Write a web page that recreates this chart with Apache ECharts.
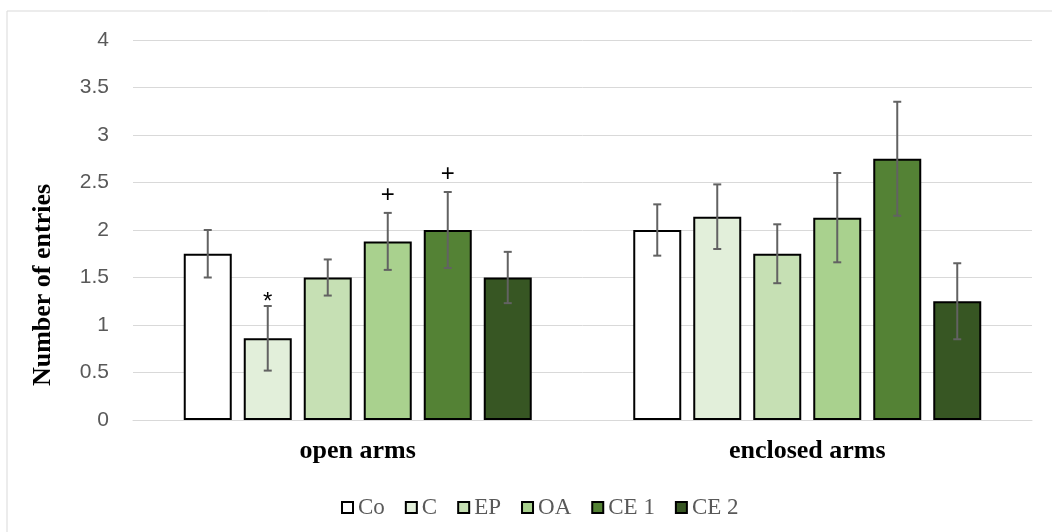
<!DOCTYPE html>
<html>
<head>
<meta charset="utf-8">
<script src="https://cdn.jsdelivr.net/npm/echarts@6/dist/echarts.min.js"></script>
<style>html,body{margin:0;padding:0;background:#fff;}#c{width:1052px;height:532px;}</style>
</head>
<body>
<div id="c"></div>
<script>
const categories = ['open arms', 'enclosed arms'];
const seriesNames = ['Co', 'C', 'EP', 'OA', 'CE 1', 'CE 2'];
const colors = ['#FFFFFF', '#E2EFDA', '#C6E0B4', '#A9D18E', '#548235', '#375623'];
const means = [
  [1.75, 2.0],
  [0.86, 2.14],
  [1.5, 1.75],
  [1.88, 2.13],
  [2.0, 2.75],
  [1.5, 1.25]
];
const errors = [
  [0.25, 0.27],
  [0.34, 0.34],
  [0.19, 0.31],
  [0.30, 0.47],
  [0.40, 0.60],
  [0.27, 0.40]
];
const annotations = [
  ['', ''],
  ['*', ''],
  ['', ''],
  ['+', ''],
  ['+', ''],
  ['', '']
];
const yTicks = { min: 0, max: 4, interval: 0.5 };
const yTitle = 'Number of entries';

const chart = echarts.init(document.getElementById('c'), null, { renderer: 'canvas' });
const BAR_W = 48, STEP = 60;

const series = [];
seriesNames.forEach((name, i) => {
  series.push({
    name: name,
    type: 'bar',
    data: means[i],
    barWidth: BAR_W,
    barGap: '25%',
    itemStyle: { color: colors[i], borderColor: '#000', borderWidth: 2 },
    z: 2
  });
});
seriesNames.forEach((name, i) => {
  series.push({
    type: 'custom',
    name: name + '_err',
    data: means[i].map((m, j) => [j, m, errors[i][j]]),
    z: 5,
    silent: true,
    renderItem: function (params, api) {
      const j = api.value(0), m = api.value(1), e = api.value(2);
      const ann = annotations[i][j];
      const off = (i - 2.5) * STEP;
      const top = api.coord([j, m + e]);
      const bot = api.coord([j, m - e]);
      const x = top[0] + off;
      const cap = 4;
      const st = { stroke: '#626262', lineWidth: 2 };
      const children = [
        { type: 'line', shape: { x1: x, y1: top[1], x2: x, y2: bot[1] }, style: st },
        { type: 'line', shape: { x1: x - cap, y1: top[1], x2: x + cap, y2: top[1] }, style: st },
        { type: 'line', shape: { x1: x - cap, y1: bot[1], x2: x + cap, y2: bot[1] }, style: st }
      ];
      if (ann) {
        const dy = ann === '*' ? -4 : -18;
        children.push({
          type: 'text',
          style: {
            text: ann, x: x, y: top[1] + dy,
            align: 'center', verticalAlign: 'middle',
            fill: '#000', font: '24px "Liberation Sans", sans-serif'
          }
        });
      }
      return { type: 'group', children: children };
    }
  });
});

chart.setOption({
  animation: false,
  backgroundColor: '#fff',
  graphic: [{
    type: 'rect', shape: { x: 7, y: 11, width: 1060, height: 540 },
    style: { fill: 'none', stroke: '#d9d9d9', lineWidth: 1 }, silent: true, z: -1
  }, {
    type: 'text', x: 43, y: 285, rotation: Math.PI / 2,
    style: {
      text: yTitle, align: 'center', verticalAlign: 'middle',
      font: 'bold 26px "Liberation Serif", serif', fill: '#000'
    }, silent: true
  }],
  grid: { left: 133, right: 20, top: 40, bottom: 112 },
  legend: {
    data: seriesNames,
    top: 491,
    left: 336,
    itemWidth: 11,
    itemHeight: 11,
    itemGap: 20,
    icon: 'rect',
    textStyle: { fontFamily: '"Liberation Serif", serif', fontSize: 23, color: '#595959' }
  },
  xAxis: {
    type: 'category',
    data: categories,
    axisLine: { lineStyle: { color: '#d9d9d9', width: 1 } },
    axisTick: { show: false },
    axisLabel: { fontFamily: '"Liberation Serif", serif', fontWeight: 'bold', fontSize: 26, color: '#000', margin: 18 }
  },
  yAxis: {
    type: 'value',
    min: yTicks.min, max: yTicks.max, interval: yTicks.interval,
    axisLine: { show: false },
    axisTick: { show: false },
    splitLine: { lineStyle: { color: '#d9d9d9', width: 1 } },
    axisLabel: { fontFamily: '"Liberation Sans", sans-serif', fontSize: 21, color: '#595959', margin: 24 }
  },
  series: series
});
</script>
</body>
</html>
